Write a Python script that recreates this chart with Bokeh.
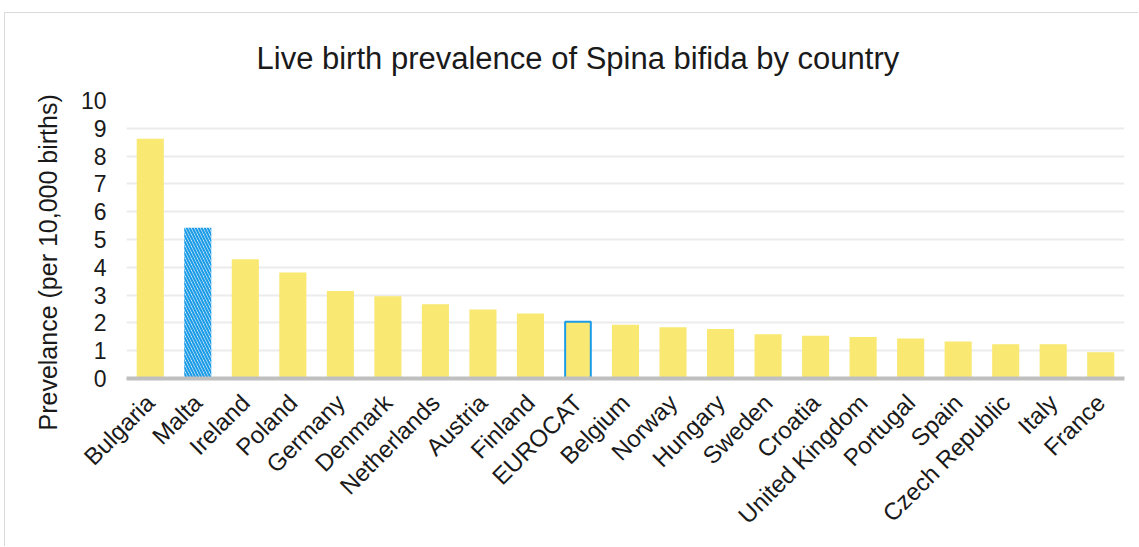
import math
from bokeh.plotting import figure
from bokeh.models import FixedTicker, Title, FactorRange
from bokeh.embed import file_html
from bokeh.resources import INLINE

countries = ["Bulgaria", "Malta", "Ireland", "Poland", "Germany", "Denmark",
             "Netherlands", "Austria", "Finland", "EUROCAT", "Belgium", "Norway",
             "Hungary", "Sweden", "Croatia", "United Kingdom", "Portugal", "Spain",
             "Czech Republic", "Italy", "France"]
prevalence = [8.62, 5.42, 4.29, 3.81, 3.15, 2.96, 2.67, 2.48, 2.34, 2.04, 1.93,
              1.84, 1.78, 1.59, 1.54, 1.49, 1.44, 1.33, 1.23, 1.23, 0.94]
highlight_country = "Malta"
reference_group = "EUROCAT"
y_ticks = list(range(0, 11))

title_text = "Live birth prevalence of Spina bifida by country"
y_label = "Prevelance (per 10,000 births)"

YELLOW = "#F9E872"
BLUE = "#1C9BE6"
FONT = "Liberation Sans"
TXT = "#1a1a1a"

p = figure(width=1134, height=534, x_range=FactorRange(factors=countries),
           y_range=(0, 10), output_backend="svg", toolbar_location=None,
           min_border_left=121, min_border_right=15, min_border_top=87,
           min_border_bottom=169)
p.margin = (12, 0, 0, 4)
p.styles = {"border-top": "1px solid #d9d9d9", "border-left": "1px solid #d9d9d9"}
p.outline_line_color = None
p.background_fill_color = "white"
p.border_fill_color = "white"

p.title = Title(text=title_text, align="left", offset=130, standoff=50,
                text_font=FONT, text_font_size="31px", text_font_style="normal",
                text_color=TXT)

others_x = [c for c in countries if c not in (highlight_country, reference_group)]
others_y = [v for c, v in zip(countries, prevalence) if c not in (highlight_country, reference_group)]
hl_y = [v for c, v in zip(countries, prevalence) if c == highlight_country]
ref_y = [v for c, v in zip(countries, prevalence) if c == reference_group]

W = 0.57
p.vbar(x=others_x, top=others_y, width=W, fill_color=YELLOW, line_color=None)
p.vbar(x=[highlight_country], top=hl_y, width=W, fill_color="white", line_color=None,
       hatch_pattern="\\", hatch_color=BLUE, hatch_scale=6, hatch_weight=2.2)
p.vbar(x=[reference_group], top=ref_y, width=W - 0.03, fill_color=YELLOW,
       line_color=BLUE, line_width=2)

p.xgrid.grid_line_color = None
p.ygrid.grid_line_color = "#ececec"
p.ygrid.grid_line_width = 2

p.yaxis.ticker = FixedTicker(ticks=y_ticks)
p.yaxis.axis_line_color = None
p.yaxis.major_tick_line_color = None
p.yaxis.minor_tick_line_color = None
p.yaxis.major_tick_out = 0
p.yaxis.major_tick_in = 0
p.yaxis.major_label_standoff = 20
p.yaxis.major_label_text_font = FONT
p.yaxis.major_label_text_font_size = "23px"
p.yaxis.major_label_text_color = TXT

p.add_layout(Title(text=y_label, align="left", offset=-52, standoff=31,
                   text_font=FONT, text_font_size="25px", text_font_style="normal",
                   text_color=TXT), "left")

p.xaxis.axis_line_color = "#bfbfbf"
p.xaxis.axis_line_width = 4
p.xaxis.major_tick_line_color = None
p.xaxis.major_tick_out = 0
p.xaxis.major_tick_in = 0
p.xaxis.major_label_orientation = math.pi / 4
p.xaxis.major_label_standoff = 20
p.xaxis.major_label_text_font = FONT
p.xaxis.major_label_text_font_size = "24px"
p.xaxis.major_label_text_color = TXT

open("out.html", "w").write(file_html(p, INLINE))
